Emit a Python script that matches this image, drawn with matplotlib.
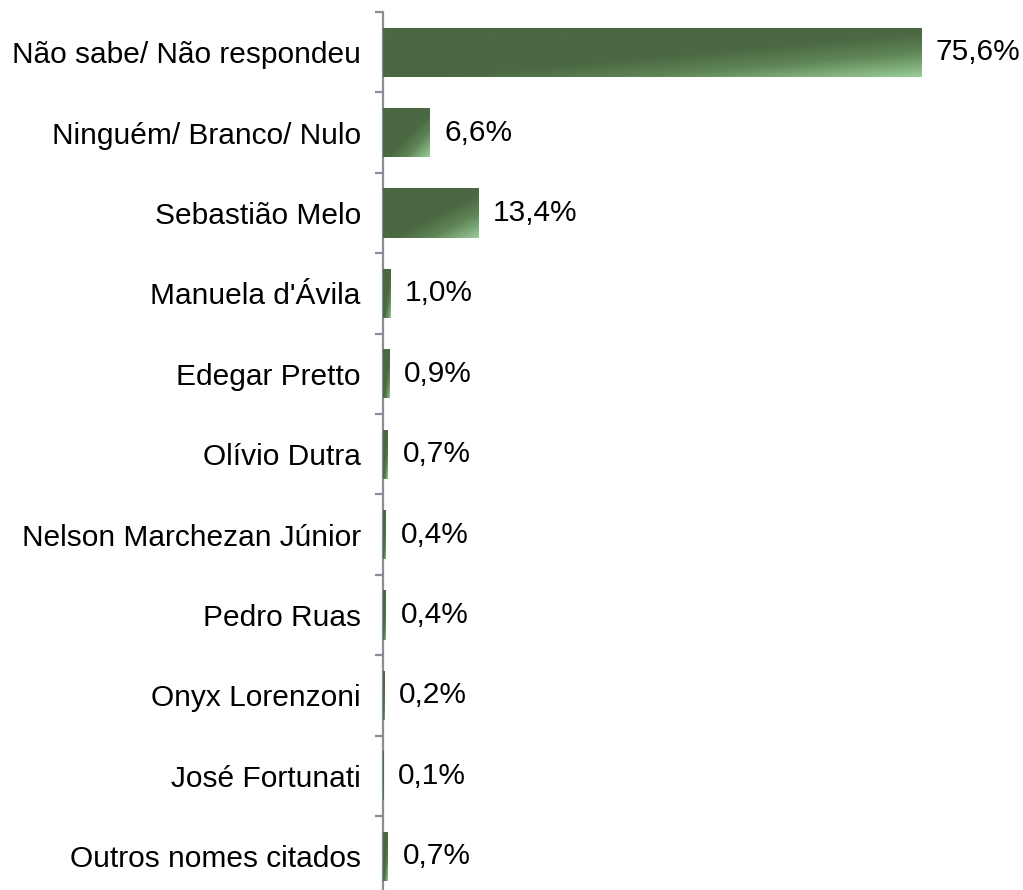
import numpy as np
import matplotlib
matplotlib.use("Agg")
import matplotlib.pyplot as plt
from matplotlib.colors import LinearSegmentedColormap

categories = [
    "Não sabe/ Não respondeu",
    "Ninguém/ Branco/ Nulo",
    "Sebastião Melo",
    "Manuela d'Ávila",
    "Edegar Pretto",
    "Olívio Dutra",
    "Nelson Marchezan Júnior",
    "Pedro Ruas",
    "Onyx Lorenzoni",
    "José Fortunati",
    "Outros nomes citados",
]
values = [75.6, 6.6, 13.4, 1.0, 0.9, 0.7, 0.4, 0.4, 0.2, 0.1, 0.7]
value_labels = ["75,6%", "6,6%", "13,4%", "1,0%", "0,9%", "0,7%", "0,4%", "0,4%", "0,2%", "0,1%", "0,7%"]

plt.rcParams['font.family'] = ['Liberation Sans', 'DejaVu Sans']

W, H = 1023, 890
fig = plt.figure(figsize=(W / 100, H / 100), dpi=100)
left_px, top_px, px_per_cat = 383, 12, 80.4
n = len(categories)
bottom_px = top_px + n * px_per_cat
ax = fig.add_axes([left_px / W, (H - bottom_px) / H, (W - left_px) / W, (bottom_px - top_px) / H])

dark = "#4a6842"
light = "#98cc98"
cmap = LinearSegmentedColormap.from_list(
    "g", [(0.0, dark), (0.55, dark), (0.75, "#5f8557"), (1.0, light)])

pos = np.arange(n)
bar_h = 0.61
bars = ax.barh(pos, values, height=bar_h, color=dark, edgecolor="none", zorder=2)

nu, nv = 200, 60
u = np.linspace(0, 1, nu)[None, :]
v = np.linspace(0, 1, nv)[:, None]
grad = (u + v) / 2.0
for i, (b, val) in enumerate(zip(bars, values)):
    im = ax.imshow(grad, cmap=cmap, vmin=0, vmax=1, aspect='auto', origin='upper',
                   extent=(0, val, i + bar_h / 2, i - bar_h / 2), zorder=3,
                   interpolation='bilinear')
    im.set_clip_path(b)

ax.set_xlim(0, (W - left_px) / 7.12)
ax.set_ylim(n - 0.5, -0.5)
ax.set_aspect('auto')

fs = 21.5
for i, (val, lab) in enumerate(zip(values, value_labels)):
    ax.annotate(lab, xy=(val, i), xytext=(10.5, 0), textcoords='offset points',
                ha='left', va='center', fontsize=fs, color='#000000')

for s in ['top', 'right', 'bottom']:
    ax.spines[s].set_visible(False)
ax.spines['left'].set_color('#878e96')
ax.spines['left'].set_linewidth(1.6)
ax.set_xticks([])
ax.set_yticks(pos)
ax.set_yticklabels(categories, fontsize=fs)
ax.set_yticks(np.arange(n + 1) - 0.5, minor=True)
ax.tick_params(axis='y', which='major', length=0, pad=16)
ax.tick_params(axis='y', which='minor', length=6, width=1.6, color='#878e96', direction='out')

fig.savefig("out.png", dpi=100)
